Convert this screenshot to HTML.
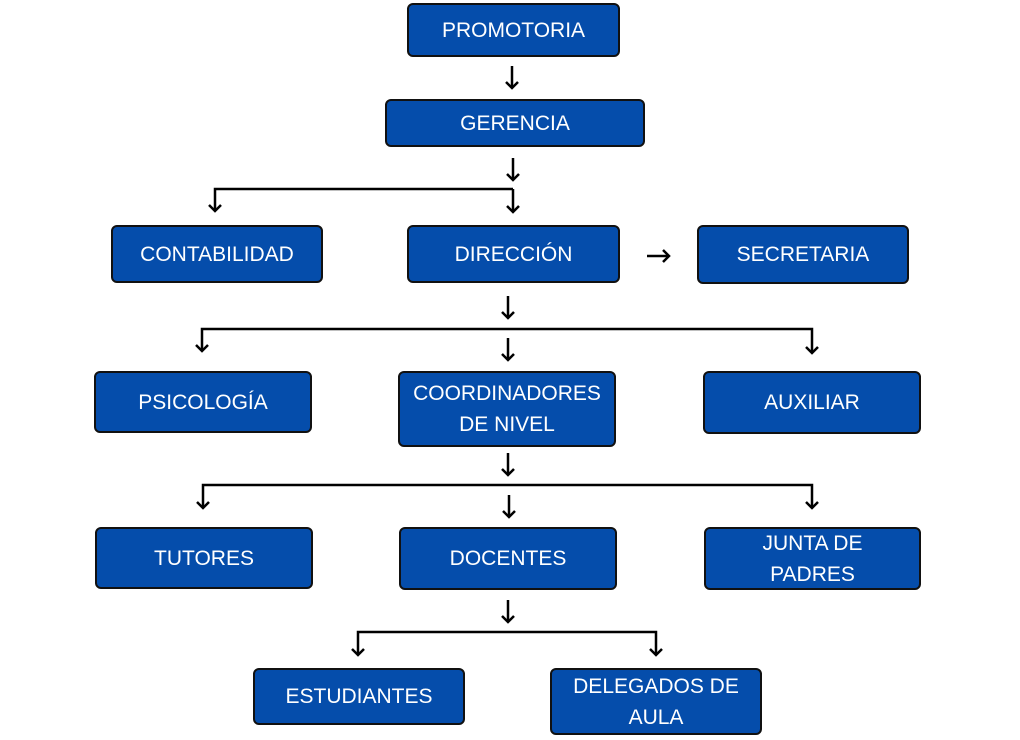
<!DOCTYPE html>
<html><head><style>
body{margin:0;background:#fff;width:1020px;height:740px;overflow:hidden;position:relative;font-family:"Liberation Sans",sans-serif}
.b{position:absolute;box-sizing:border-box;background:#054DAB;border:2px solid #111;border-radius:6px;color:#fff;font-size:21px;display:flex;align-items:center;justify-content:center;text-align:center;line-height:31px}
svg{position:absolute;left:0;top:0}
</style></head><body>
<svg width="1020" height="740" fill="none" stroke="#000" stroke-width="2.5">
<defs><marker id="a" markerWidth="16" markerHeight="16" refX="7" refY="7" orient="auto" markerUnits="userSpaceOnUse"><path d="M1 1 L7 7 L1 13" stroke="#000" stroke-width="2.5" fill="none"/></marker></defs>
<g marker-end="url(#a)">
<path d="M512 66V88"/><path d="M513 158V180"/>
<path d="M513 189H215V211"/><path d="M513 189V212"/>
<path d="M647 256H669"/>
<path d="M508 296V318"/>
<path d="M508 329H202V351"/><path d="M508 329H812V353"/><path d="M508 338V360"/>
<path d="M508 453V475"/>
<path d="M509 485H203V508"/><path d="M509 485H812V508"/><path d="M509 495V517"/>
<path d="M508 600V622"/>
<path d="M508 632H358V655"/><path d="M508 632H656V655"/>
</g>
</svg>
<div class="b" style="left:407px;top:3px;width:213px;height:54px">PROMOTORIA</div>
<div class="b" style="left:385px;top:99px;width:260px;height:48px">GERENCIA</div>
<div class="b" style="left:111px;top:225px;width:212px;height:58px">CONTABILIDAD</div>
<div class="b" style="left:407px;top:225px;width:213px;height:58px">DIRECCIÓN</div>
<div class="b" style="left:697px;top:225px;width:212px;height:59px">SECRETARIA</div>
<div class="b" style="left:94px;top:371px;width:218px;height:62px">PSICOLOGÍA</div>
<div class="b" style="left:398px;top:371px;width:218px;height:76px">COORDINADORES<br>DE NIVEL</div>
<div class="b" style="left:703px;top:371px;width:218px;height:63px">AUXILIAR</div>
<div class="b" style="left:95px;top:527px;width:218px;height:62px">TUTORES</div>
<div class="b" style="left:399px;top:527px;width:218px;height:63px">DOCENTES</div>
<div class="b" style="left:704px;top:527px;width:217px;height:63px">JUNTA DE<br>PADRES</div>
<div class="b" style="left:253px;top:668px;width:212px;height:57px">ESTUDIANTES</div>
<div class="b" style="left:550px;top:668px;width:212px;height:67px">DELEGADOS DE<br>AULA</div>
</body></html>
